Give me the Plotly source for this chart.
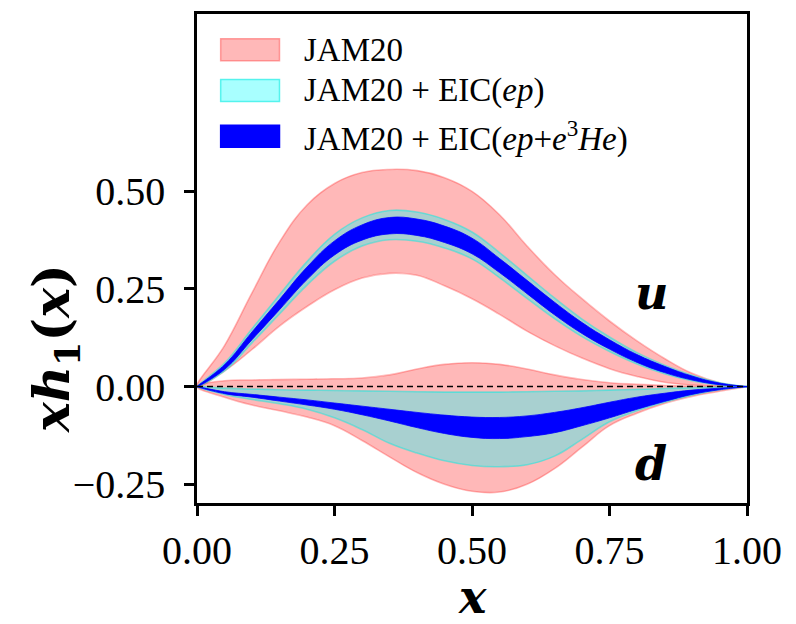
import plotly.graph_objects as go

# ---------------- data ----------------
x_grid = [0.0, 0.05, 0.10, 0.15, 0.20, 0.25, 0.30, 0.35, 0.40, 0.45, 0.50,
          0.55, 0.60, 0.65, 0.70, 0.75, 0.80, 0.85, 0.90, 0.95, 1.0]

# u quark  xh1(x)
u_jam_hi = [0, 0.105, 0.24, 0.37, 0.465, 0.52, 0.548, 0.556, 0.553, 0.535, 0.50,
            0.44, 0.36, 0.287, 0.225, 0.168, 0.117, 0.072, 0.034, 0.01, 0]
u_jam_lo = [0, 0.04, 0.095, 0.155, 0.205, 0.248, 0.278, 0.29, 0.285, 0.258, 0.225,
            0.185, 0.142, 0.105, 0.073, 0.046, 0.026, 0.011, 0.004, 0.001, 0]
u_ep_hi = [0, 0.06, 0.148, 0.235, 0.32, 0.39, 0.432, 0.451, 0.447, 0.428, 0.396,
           0.343, 0.285, 0.227, 0.173, 0.127, 0.087, 0.055, 0.029, 0.01, 0]
u_ep_lo = [0, 0.04, 0.112, 0.186, 0.26, 0.321, 0.36, 0.376, 0.372, 0.355, 0.327,
           0.279, 0.226, 0.174, 0.128, 0.09, 0.058, 0.033, 0.015, 0.004, 0]
u_he_hi = [0, 0.056, 0.14, 0.223, 0.306, 0.373, 0.414, 0.433, 0.429, 0.411, 0.38,
           0.328, 0.272, 0.216, 0.164, 0.12, 0.082, 0.052, 0.027, 0.009, 0]
u_he_lo = [0, 0.044, 0.12, 0.197, 0.274, 0.337, 0.375, 0.391, 0.387, 0.369, 0.34,
           0.292, 0.238, 0.184, 0.136, 0.096, 0.062, 0.036, 0.017, 0.005, 0]

# d quark  xh1(x)
d_jam_hi = [0, 0.015, 0.017, 0.018, 0.019, 0.02, 0.022, 0.03, 0.045, 0.057, 0.061,
            0.057, 0.045, 0.03, 0.018, 0.01, 0.006, 0.003, 0.001, 0, 0]
d_jam_lo = [0, -0.027, -0.047, -0.062, -0.078, -0.10, -0.138, -0.18, -0.22, -0.25, -0.268,
            -0.27, -0.25, -0.21, -0.155, -0.10, -0.068, -0.043, -0.025, -0.012, 0]
d_ep_hi = [0, -0.004, -0.006, -0.008, -0.009, -0.01, -0.011, -0.012, -0.013, -0.014, -0.014,
           -0.014, -0.013, -0.012, -0.011, -0.009, -0.007, -0.005, -0.003, -0.001, 0]
d_ep_lo = [0, -0.02, -0.033, -0.044, -0.058, -0.08, -0.11, -0.145, -0.17, -0.19, -0.202,
           -0.205, -0.20, -0.178, -0.135, -0.09, -0.062, -0.04, -0.022, -0.008, 0]
d_he_hi = [0, -0.013, -0.02, -0.027, -0.034, -0.042, -0.05, -0.058, -0.066, -0.073, -0.078,
           -0.079, -0.075, -0.066, -0.054, -0.04, -0.027, -0.017, -0.009, -0.004, 0]
d_he_lo = [0, -0.018, -0.027, -0.037, -0.047, -0.058, -0.072, -0.088, -0.105, -0.12, -0.13,
           -0.133, -0.128, -0.118, -0.10, -0.08, -0.058, -0.038, -0.02, -0.008, 0]

x_ticks = [0.0, 0.25, 0.5, 0.75, 1.0]
x_ticklabels = ["0.00", "0.25", "0.50", "0.75", "1.00"]
y_ticks = [-0.25, 0.0, 0.25, 0.5]
y_ticklabels = ["\u22120.25", "0.00", "0.25", "0.50"]

legend_labels = ["JAM20",
                 "JAM20 + EIC(<i>ep</i>)",
                 "JAM20 + EIC(<i>ep</i>+<i>e</i><sup>3</sup><i>He</i>)"]

# ---------------- styles ----------------
PINK_FILL = "rgba(255,0,0,0.28)"
PINK_LINE = "rgba(255,40,40,0.32)"
CYAN_FILL = "rgba(0,255,255,0.34)"
CYAN_LINE = "rgba(0,235,225,0.45)"
BLUE_FILL = "rgb(0,0,255)"
SERIF = "Liberation Serif, Times New Roman, serif"
MATH = "DejaVu Serif, serif"

fig = go.Figure()


def band(xs, hi, lo, fill, line, lw):
    fig.add_trace(go.Scatter(
        x=list(xs) + list(xs)[::-1],
        y=list(hi) + list(lo)[::-1],
        mode="lines", fill="toself", fillcolor=fill,
        line=dict(color=line, width=lw, shape="spline", smoothing=1.2),
        hoverinfo="skip", showlegend=False))


band(x_grid, u_jam_hi, u_jam_lo, PINK_FILL, PINK_LINE, 1.6)
band(x_grid, d_jam_hi, d_jam_lo, PINK_FILL, PINK_LINE, 1.6)
band(x_grid, u_ep_hi, u_ep_lo, CYAN_FILL, CYAN_LINE, 1.6)
band(x_grid, d_ep_hi, d_ep_lo, CYAN_FILL, CYAN_LINE, 1.6)
band(x_grid, u_he_hi, u_he_lo, BLUE_FILL, BLUE_FILL, 0.8)
band(x_grid, d_he_hi, d_he_lo, BLUE_FILL, BLUE_FILL, 0.8)

fig.add_hline(y=0, line=dict(color="black", width=1.5, dash="6px,4px"))

axis_common = dict(showline=True, linecolor="black", linewidth=2.5, mirror=True,
                   ticks="outside", ticklen=10, tickwidth=2.5, tickcolor="black",
                   showgrid=False, zeroline=False,
                   tickfont=dict(family=SERIF, size=40, color="black"))

fig.update_xaxes(range=[0, 1], tickvals=x_ticks, ticktext=x_ticklabels,
                 ticklabelstandoff=0, **axis_common)
fig.update_yaxes(range=[-0.298, 0.954], tickvals=y_ticks, ticktext=y_ticklabels,
                 ticklabelstandoff=11, **axis_common)

# legend drawn inside the axes (top-left)
legend_fills = [(PINK_FILL, "rgba(255,90,90,0.55)"),
                (CYAN_FILL, "rgba(0,235,225,0.6)"),
                (BLUE_FILL, BLUE_FILL)]
row_y = [0.927, 0.8435, 0.75]
for (fc, lc), yy, lab in zip(legend_fills, row_y, legend_labels):
    fig.add_shape(type="rect", xref="paper", yref="paper",
                  x0=0.043, x1=0.150, y0=yy - 0.0224, y1=yy + 0.0224,
                  fillcolor=fc, line=dict(color=lc, width=1.5), layer="above")
    fig.add_annotation(xref="paper", yref="paper", x=0.19, y=yy,
                       xanchor="left", yanchor="middle", showarrow=False,
                       text=lab, font=dict(family=SERIF, size=33, color="black"))

# quark labels
fig.add_annotation(x=0.827, y=0.239, text="<b><i>u</i></b>", showarrow=False,
                   font=dict(family=MATH, size=46, color="black"))
fig.add_annotation(x=0.825, y=-0.198, text="<b><i>d</i></b>", showarrow=False,
                   font=dict(family=MATH, size=46, color="black"))

# axis titles
fig.add_annotation(xref="paper", yref="paper", x=0.5, y=-0.193,
                   text="<b><i>x</i></b>", showarrow=False,
                   xanchor="center", yanchor="middle",
                   font=dict(family=MATH, size=46, color="black"))
fig.add_annotation(xref="paper", yref="paper", x=-0.258, y=0.315,
                   text="<b><i>xh</i></b><sub><b>1</b></sub><b>(<i>x</i>)</b>",
                   showarrow=False, textangle=-90,
                   xanchor="center", yanchor="middle",
                   font=dict(family=MATH, size=50, color="black"))

# the page body has an 8px margin, so the figure is 8px smaller and the margins shifted
fig.update_layout(width=788, height=616,
                  margin=dict(l=189, r=49, t=3, b=121),
                  paper_bgcolor="white", plot_bgcolor="white",
                  showlegend=False)

fig.write_html("out.html")
